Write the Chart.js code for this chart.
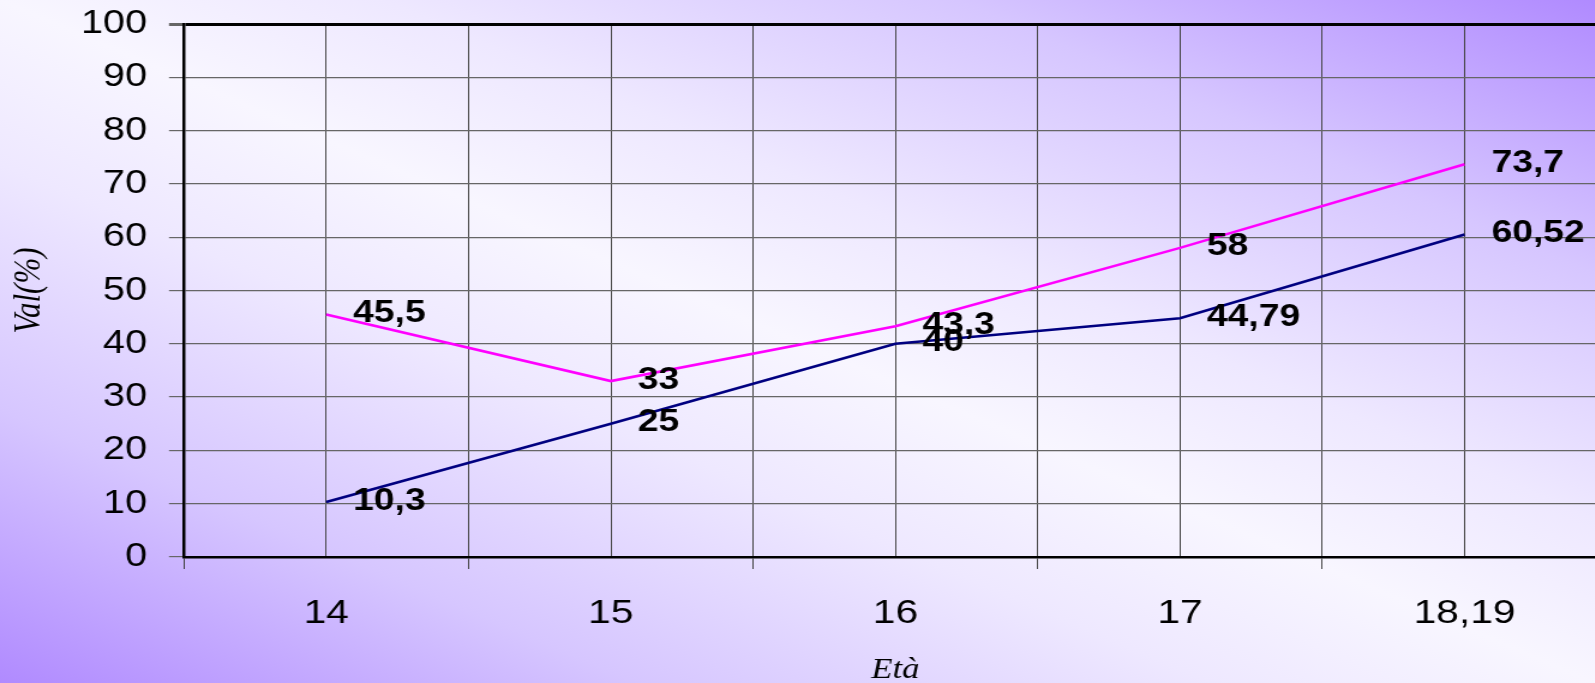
<!DOCTYPE html>
<html>
<head>
<meta charset="utf-8">
<script src="https://cdn.jsdelivr.net/npm/chart.js@4.4.1/dist/chart.umd.min.js"></script>
<style>
  html, body { margin: 0; padding: 0; width: 1595px; height: 683px; overflow: hidden; }
  body {
    background: linear-gradient(to top right, #b08aff 0%, #d6c6ff 20%, #eee8ff 38%, #f8f6ff 50%, #eee8ff 62%, #d6c6ff 80%, #b08aff 100%);
  }
  #wrap { width: 1400px; height: 683px; transform: scaleX(1.2); transform-origin: 0 0; }
</style>
</head>
<body>
<div id="wrap"><canvas id="c" width="1400" height="683"></canvas></div>
<script>
const categories = ['14', '15', '16', '17', '18,19'];
const seriesNavy = [10.3, 25, 40, 44.79, 60.52];
const seriesMagenta = [45.5, 33, 43.3, 58, 73.7];
const yTicks = [0, 10, 20, 30, 40, 50, 60, 70, 80, 90, 100];

const toPoints = arr => arr.map((v, i) => ({ x: i, y: v }));
const fmt = v => String(v).replace('.', ',');
const isInt = v => Math.abs(v - Math.round(v)) < 1e-6;

const labelPlugin = {
  id: 'valueLabels',
  afterDatasetsDraw(chart) {
    const ctx = chart.ctx;
    ctx.save();
    ctx.font = 'bold 31px "Liberation Sans", Arial, sans-serif';
    ctx.fillStyle = '#000';
    ctx.textAlign = 'left';
    ctx.textBaseline = 'middle';
    chart.data.datasets.forEach((ds, di) => {
      const meta = chart.getDatasetMeta(di);
      meta.data.forEach((pt, i) => {
        ctx.fillText(fmt(ds.data[i].y), pt.x + 22.5, pt.y - 1);
      });
    });
    ctx.restore();
  }
};

const noPad = s => { s.paddingTop = 0; s.paddingBottom = 0; s.paddingLeft = 0; s.paddingRight = 0; };

new Chart(document.getElementById('c'), {
  type: 'line',
  data: {
    datasets: [
      { label: 'A', data: toPoints(seriesNavy), borderColor: '#000080', borderWidth: 2.6, pointRadius: 0, tension: 0, fill: false },
      { label: 'B', data: toPoints(seriesMagenta), borderColor: '#ff00ff', borderWidth: 2.6, pointRadius: 0, tension: 0, fill: false }
    ]
  },
  options: {
    responsive: false,
    devicePixelRatio: 1,
    animation: false,
    layout: { padding: { top: 24, right: 61, bottom: 0, left: 0 } },
    plugins: { legend: { display: false }, tooltip: { enabled: false } },
    scales: {
      x: {
        type: 'linear',
        min: -0.5,
        max: categories.length - 0.5,
        afterFit: s => { s.height = 126; noPad(s); },
        ticks: {
          stepSize: 0.5,
          autoSkip: false,
          maxRotation: 0,
          padding: 24,
          color: '#000',
          font: { family: '"Liberation Sans", Arial, sans-serif', size: 34 },
          callback: v => isInt(v) ? categories[Math.round(v)] : ''
        },
        grid: {
          color: '#444',
          lineWidth: 1,
          tickLength: 12,
          tickColor: c => (c.tick && isInt(c.tick.value)) ? 'rgba(0,0,0,0)' : '#444'
        },
        border: { color: '#000', width: 2.5 },
        title: {
          display: true,
          text: 'Età',
          color: '#000',
          font: { family: '"Liberation Serif", "Times New Roman", serif', size: 29, style: 'italic', lineHeight: 0.9 },
          padding: { top: 0, bottom: 0 }
        }
      },
      y: {
        min: 0,
        max: 100,
        afterFit: s => { s.width = 153.3; noPad(s); },
        afterBuildTicks: s => { s.ticks = yTicks.map(v => ({ value: v })); },
        ticks: {
          stepSize: 10,
          padding: 18.3,
          color: '#000',
          font: { family: '"Liberation Sans", Arial, sans-serif', size: 33 }
        },
        grid: {
          color: c => (c.tick && c.tick.value === 100) ? '#000' : '#666',
          lineWidth: c => (c.tick && c.tick.value === 100) ? 3 : 1.2,
          tickLength: 12.5,
          tickColor: '#666'
        },
        border: { color: '#000', width: 2.5 },
        title: {
          display: true,
          text: 'Val(%)',
          color: '#000',
          font: { family: '"Liberation Serif", "Times New Roman", serif', size: 31, style: 'italic', lineHeight: 1 },
          padding: { top: 9, bottom: 0 }
        }
      }
    }
  },
  plugins: [labelPlugin]
});
</script>
</body>
</html>
